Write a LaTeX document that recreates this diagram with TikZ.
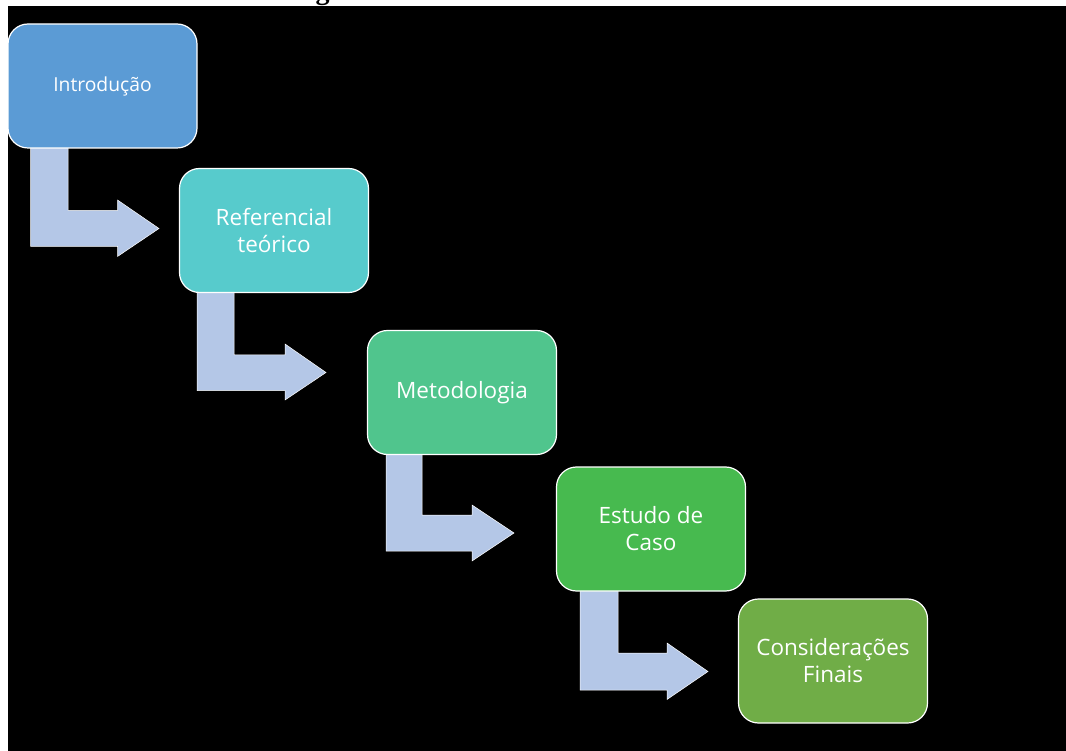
\documentclass[tikz,border=0pt]{standalone}
\usepackage{fontspec}
\setmainfont{Open Sans}
\newfontfamily\serifb{Liberation Serif}
\usetikzlibrary{calc}
\definecolor{cA}{HTML}{5B9BD5}
\definecolor{cB}{HTML}{57CBCC}
\definecolor{cC}{HTML}{50C58D}
\definecolor{cD}{HTML}{47BA4F}
\definecolor{cE}{HTML}{70AD47}
\definecolor{arrc}{HTML}{B4C7E7}
\tikzset{
  stage/.style={rectangle, rounded corners=20pt, draw=white, line width=1.2pt,
    minimum width=189pt, minimum height=124pt, inner sep=0pt, align=center,
    text=white, font=\fontsize{22.5}{27}\selectfont},
  bent/.style={fill=arrc, draw=white, line width=0.5pt, line join=miter}
}
\begin{document}
\begin{tikzpicture}[x=1pt,y=-1pt]
\useasboundingbox (0,0) rectangle (1066,751);
\fill[white] (0,0) rectangle (1066,751);
\fill[black] (8,6) rectangle (1066,751);
\begin{scope}
\clip (0,0) rectangle (1066,6);
\node[anchor=base, inner sep=0pt, font=\serifb\bfseries\fontsize{28}{30}\selectfont] (gl) at (322.5,-0.5) {g};
\end{scope}
% bent arrows (behind boxes)
\fill[bent] (30.5,146) -- (68,146) -- (68,210.5) -- (117.5,210.5) -- (117.5,200) -- (159,228.5) -- (117.5,256.5) -- (117.5,246.5) -- (30.5,246.5) -- cycle;
\fill[bent] (197,291) -- (234,291) -- (234,355) -- (285,355) -- (285,344) -- (326,372.5) -- (285,400) -- (285,390.5) -- (197,390.5) -- cycle;
\fill[bent] (386,453) -- (422,453) -- (422,515) -- (472,515) -- (472,505) -- (514,533) -- (472,561) -- (472,551) -- (386,551) -- cycle;
\fill[bent] (580,589) -- (618,589) -- (618,653) -- (667,653) -- (667,643) -- (708,671.5) -- (667,699.5) -- (667,690) -- (580,690) -- cycle;
% stages
\node[stage, fill=cA, font=\fontsize{19.3}{24}\selectfont] (s1) at (102.5,86) {Introdução};
\node[stage, fill=cB] (s2) at (274,230.5) {Referencial\\teórico};
\node[stage, fill=cC] (s3) at (462,392.5) {Metodologia};
\node[stage, fill=cD] (s4) at (651,529) {Estudo de\\Caso};
\node[stage, fill=cE] (s5) at (833,661) {Considerações\\Finais};
\end{tikzpicture}
\end{document}
